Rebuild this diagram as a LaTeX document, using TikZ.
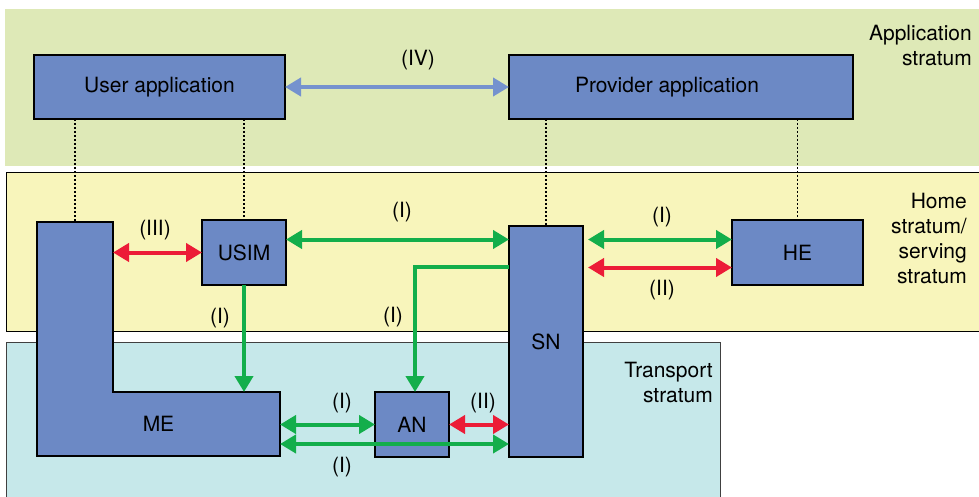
\documentclass[tikz,border=0pt]{standalone}
\usepackage{fontspec}
\setmainfont{TeX Gyre Heros}
\usepackage{tikz}
\usetikzlibrary{arrows.meta,positioning,calc}
\definecolor{appgreen}{HTML}{DEE9B7}
\definecolor{homeyellow}{HTML}{F8F5BB}
\definecolor{transcyan}{HTML}{C6E8EA}
\definecolor{boxblue}{HTML}{6C89C5}
\definecolor{lineblue}{HTML}{7592CE}
\definecolor{sigred}{HTML}{EC1C37}
\definecolor{siggreen}{HTML}{13AE4B}

\begin{document}
\begin{tikzpicture}[x=1pt,y=-1pt,font=\fontsize{21}{25}\selectfont,
  >={Triangle[length=16pt,width=18pt]},
  band/.style={inner sep=0pt,outer sep=0pt,anchor=north west},
  unit/.style={band,draw=black,line width=1.5pt,fill=boxblue},
  stratum/.style={align=right,anchor=north east,inner sep=0pt},
  link/.style={line width=4pt,<->},
  lbl/.style={inner sep=1pt}]
\useasboundingbox (0,0) rectangle (979,497);
% strata
\node[band,fill=appgreen,minimum width=974pt,minimum height=157pt] (appband) at (5,9) {};
\node[band,fill=homeyellow,draw=black,line width=1pt,minimum width=975pt,minimum height=158pt] (homeband) at (6,173) {};
\node[band,fill=transcyan,draw=black!75,line width=1pt,minimum width=714pt,minimum height=160pt] (transband) at (6,342) {};
\node[stratum] (applbl) at (972,25) {Application\\stratum};
\node[stratum] (homelbl) at (967,193) {Home\\stratum/\\serving\\stratum};
\node[stratum] (translbl) at (713,362) {Transport\\stratum};
% entities
\node[unit,minimum width=251pt,minimum height=64pt] (user) at (34,55) {User application};
\node[unit,minimum width=344pt,minimum height=64pt] (provider) at (509,55) {Provider application\hspace*{28pt}};
\node[unit,minimum width=84pt,minimum height=65pt] (usim) at (202,220) {USIM};
\node[unit,minimum width=131pt,minimum height=65pt] (he) at (732,220) {HE};
\node[unit,minimum width=74pt,minimum height=231pt] (sn) at (509,226) {SN};
\node[unit,minimum width=74pt,minimum height=65pt] (an) at (375,392) {AN};
\node[band,fill=boxblue,minimum width=76pt,minimum height=234pt] (mearm) at (37,222) {};
\node[band,fill=boxblue,minimum width=243pt,minimum height=64pt] (me) at (37,392) {ME};
\draw[line width=1.5pt] (mearm.north west) -- (mearm.north east) -- (mearm.east |- me.north) -- (me.north east) -- (me.south east) -- (me.south west) -- cycle;
\foreach \a/\b in {user/mearm,user/usim,provider/sn,provider/he}{\draw[line width=1.2pt,dash pattern=on 2pt off 2pt] (\b.north |- \a.south) -- (\b.north);}
% reference points
\draw[link,lineblue] (user) -- (provider);
\draw[link,sigred] (usim.west -| mearm.east) -- (usim.west);
\draw[siggreen,line width=4pt,->] (usim.south) -- (usim.south |- me.north);
\draw[link,siggreen] ([yshift=13pt]usim.east) -- ([yshift=13pt]usim.east -| sn.west);
\draw[siggreen,line width=4pt,->] ([yshift=75pt]sn.west) -| ([xshift=3pt]an.north);
\draw[link,siggreen,shorten <=5pt] ([yshift=13pt]he.west -| sn.east) -- ([yshift=13pt]he.west);
\draw[link,sigred,shorten <=5pt] ([yshift=-15pt]he.west -| sn.east) -- ([yshift=-15pt]he.west);
\draw[link,siggreen] (an.west -| me.east) -- (an.west);
\draw[link,siggreen] ([yshift=-20pt]me.east) -- ([yshift=-20pt]me.east -| sn.west);
\draw[link,sigred] (an.east) -- (an.east -| sn.west);
% labels
\node[lbl] (l4) at (418,60) {(IV)};
\node[lbl] (l3) at (155,230) {(III)};
\node[lbl] (l1usim) at (220,318) {(I)};
\node[lbl] (l1top) at (402,212) {(I)};
\node[lbl] (l1an) at (393,317) {(I)};
\node[lbl] (l1me) at (342,403) {(I)};
\node[lbl] (l1low) at (342,467) {(I)};
\node[lbl] (l2an) at (483,403) {(II)};
\node[lbl] (l1he) at (662,217) {(I)};
\node[lbl] (l2he) at (662,290) {(II)};
\end{tikzpicture}
\end{document}
